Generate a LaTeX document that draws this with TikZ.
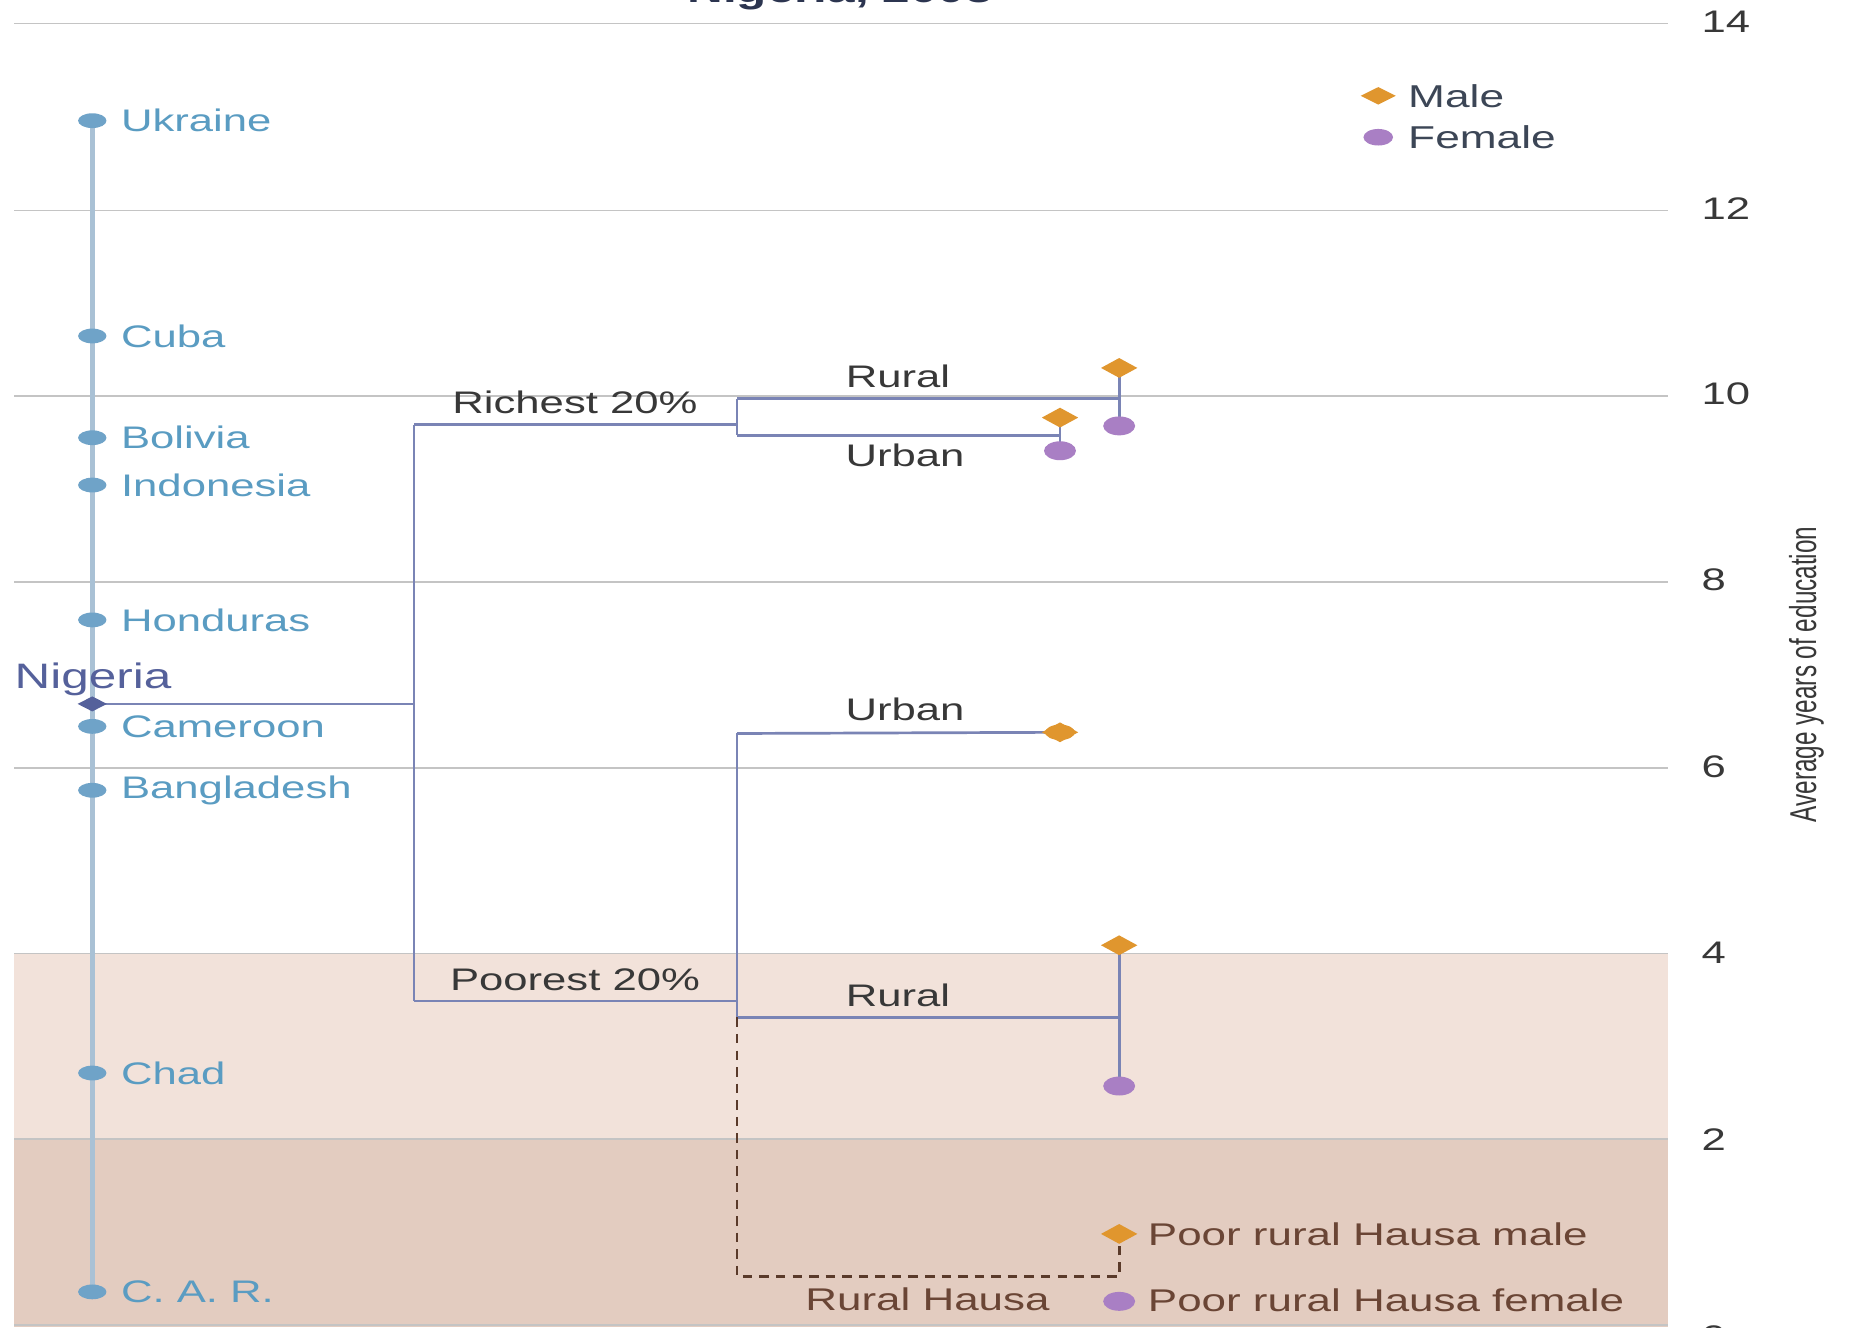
\documentclass[tikz,border=0pt]{standalone}
\usepackage{fontspec}
\setmainfont{Liberation Sans}
\newfontfamily\wfont[FakeStretch=1.4]{Liberation Sans}
\newfontfamily\wbfont[FakeStretch=1.4]{Liberation Sans Bold}
\newfontfamily\cfont[FakeStretch=0.65]{Liberation Sans}
\usetikzlibrary{shapes.geometric}
\definecolor{gridc}{HTML}{C4C4C4}
\definecolor{shadeA}{HTML}{F2E2DA}
\definecolor{shadeB}{HTML}{E3CCC0}
\definecolor{axisc}{HTML}{A9C1D5}
\definecolor{dotc}{HTML}{6FA3C8}
\definecolor{ctext}{HTML}{5A9CC2}
\definecolor{nigc}{HTML}{55619B}
\definecolor{treec}{HTML}{7A84B5}
\definecolor{malec}{HTML}{E0962E}
\definecolor{femc}{HTML}{A97FC4}
\definecolor{darkt}{HTML}{383838}
\definecolor{legt}{HTML}{3C4656}
\definecolor{brownt}{HTML}{6A4535}
\definecolor{dashc}{HTML}{5A3A2A}
\definecolor{titlec}{HTML}{2C3550}
\pgfdeclarelayer{back}
\pgfdeclarelayer{mid}
\pgfsetlayers{back,mid,main}
\tikzset{
  gridline/.style={draw=gridc, line width=0.8pt},
  countryaxis/.style={draw=axisc, line width=2.3pt},
  cdot/.style={ellipse, fill=dotc, minimum width=0.48cm, minimum height=0.25cm, inner sep=0pt},
  clab/.style={anchor=west, inner sep=0pt, text=ctext, font=\wfont\fontsize{15}{18}\selectfont},
  nigdot/.style={diamond, fill=nigc, minimum width=0.5cm, minimum height=0.26cm, inner sep=0pt},
  treeline/.style={draw=treec, line width=1.3pt},
  hausaline/.style={draw=dashc, line width=1.3pt, dash pattern=on 0.16cm off 0.12cm},
  malem/.style={diamond, fill=malec, minimum width=0.62cm, minimum height=0.34cm, inner sep=0pt},
  femm/.style={ellipse, fill=femc, minimum width=0.54cm, minimum height=0.32cm, inner sep=0pt},
  tlab/.style={inner sep=0pt, text=darkt, font=\wfont\fontsize{15}{18}\selectfont},
  hlab/.style={inner sep=0pt, text=brownt, font=\wfont\fontsize{15.1}{18}\selectfont},
  ticklab/.style={anchor=west, inner sep=0pt, text=darkt, font=\wfont\fontsize{15}{18}\selectfont},
  leglab/.style={anchor=west, inner sep=0pt, text=legt, font=\wfont\fontsize{15.2}{18}\selectfont}
}
\begin{document}
\begin{tikzpicture}[x=0.02cm, y=-0.02cm]
\useasboundingbox (0,0) rectangle (1568,1122);

% ---------- background: shading and grid ----------
\begin{pgfonlayer}{back}
\fill[white] (0,0) rectangle (1568,1122);
\fill[shadeA] (12,806) rectangle (1410,963);
\fill[shadeB] (12,963) rectangle (1410,1122);
\foreach \yy in {20,178,335,492,649,806,963,1120}
  \draw[gridline] (12,\yy) -- (1410,\yy);
\end{pgfonlayer}

% ---------- title (cut off at top) ----------
\node[anchor=base, inner sep=0pt, text=titlec, font=\wbfont\fontsize{17}{20}\selectfont] (title) at (710,2) {Nigeria, 2003};

% ---------- tick labels ----------
\node[ticklab] (t14) at (1438,18) {14};
\node[ticklab] (t12) at (1438,176) {12};
\node[ticklab] (t10) at (1438,333) {10};
\node[ticklab] (t8) at (1438,490) {8};
\node[ticklab] (t6) at (1438,648) {6};
\node[ticklab] (t4) at (1438,805) {4};
\node[ticklab] (t2) at (1438,963) {2};
\node[ticklab] (t0) at (1438,1130) {0};
\node[rotate=90, inner sep=0pt, text=darkt, font=\cfont\fontsize{18}{20}\selectfont] (ytitle) at (1527,570) {Average years of education};

% ---------- countries ----------
\node[cdot] (ukr) at (78,102) {};
\node[cdot] (cub) at (78,284) {};
\node[cdot] (bol) at (78,370) {};
\node[cdot] (ind) at (78,410) {};
\node[cdot] (hon) at (78,524) {};
\node[cdot] (cam) at (78,614) {};
\node[cdot] (ban) at (78,668) {};
\node[cdot] (cha) at (78,907) {};
\node[cdot] (car) at (78,1092) {};
\node[nigdot] (nig) at (78,595) {};

\node[clab] (lukr) at (102,102) {Ukraine};
\node[clab] (lcub) at (102,284) {Cuba};
\node[clab] (lbol) at (102,370) {Bolivia};
\node[clab] (lind) at (102,410) {Indonesia};
\node[clab] (lhon) at (102,524) {Honduras};
\node[clab] (lcam) at (102,614) {Cameroon};
\node[clab] (lban) at (102,668) {Bangladesh};
\node[clab] (lcha) at (102,907) {Chad};
\node[clab] (lcar) at (102,1092) {C. A. R.};
\node[clab, text=nigc, font=\wfont\fontsize{17}{20}\selectfont] (lnig) at (12,574) {Nigeria};

% ---------- tree junctions ----------
\coordinate (spine) at (350,595);
\coordinate (sptop) at (350,359);
\coordinate (spbot) at (350,846);
\coordinate (rj) at (623,359);
\coordinate (rjR) at (623,337);
\coordinate (rjU) at (623,368);
\coordinate (pj) at (623,846);
\coordinate (pjU) at (623,620);
\coordinate (pjR) at (623,860);
\coordinate (rRend) at (946,337);
\coordinate (rUend) at (896,368);
\coordinate (pRend) at (946,860);
\coordinate (hA) at (623,1079);
\coordinate (hB) at (946,1079);

% ---------- markers ----------
\node[malem] (mRR) at (946,311) {};
\node[femm] (fRR) at (946,360) {};
\node[malem] (mRU) at (896,353) {};
\node[femm] (fRU) at (896,381) {};
\node[femm, fill=malec, minimum width=0.5cm, minimum height=0.26cm] (fPU) at (896,619) {};
\node[malem] (mPU) at (896,619) {};
\node[malem] (mPR) at (946,799) {};
\node[femm] (fPR) at (946,918) {};
\node[malem] (mH) at (946,1043) {};
\node[femm] (fH) at (946,1100) {};

% ---------- connectors ----------
\begin{pgfonlayer}{mid}
\draw[countryaxis] (ukr.center) -- (car.center);
\draw[treeline] (nig.center) -- (spine);
\draw[treeline] (sptop) -- (spbot);
\draw[treeline] (sptop) -- (rj);
\draw[treeline] (rjR) -- (rjU);
\draw[treeline] (rjR) -- (rRend);
\draw[treeline] (rjU) -- (rUend);
\draw[treeline] (mRR.center) -- (fRR.center);
\draw[treeline] (mRU.center) -- (fRU.center);
\draw[treeline] (spbot) -- (pj);
\draw[treeline] (pjU) -- (pjR);
\draw[treeline] (pjU) -- (mPU.center);
\draw[treeline] (pjR) -- (pRend);
\draw[treeline] (mPR.center) -- (fPR.center);
\draw[hausaline] (pjR) -- (hA) -- (hB) -- (mH.center);
\end{pgfonlayer}

% ---------- tree labels ----------
\node[tlab] (lrich) at (486,340) {Richest 20\%};
\node[tlab] (lrR) at (759,318) {Rural};
\node[tlab] (lrU) at (765,385) {Urban};
\node[tlab] (lpoor) at (486,828) {Poorest 20\%};
\node[tlab] (lpU) at (765,600) {Urban};
\node[tlab] (lpR) at (759,841) {Rural};
\node[hlab] (lh) at (784,1098) {Rural Hausa};
\node[hlab, anchor=west] (lhm) at (970,1043) {Poor rural Hausa male};
\node[hlab, anchor=west] (lhf) at (970,1099) {Poor rural Hausa female};

% ---------- legend ----------
\node[malem, minimum width=0.6cm, minimum height=0.3cm] (legm) at (1165,81) {};
\node[femm, minimum width=0.5cm, minimum height=0.28cm] (legf) at (1165,116) {};
\node[leglab] (leglm) at (1190,81) {Male};
\node[leglab] (leglf) at (1190,116) {Female};
\end{tikzpicture}
\end{document}
